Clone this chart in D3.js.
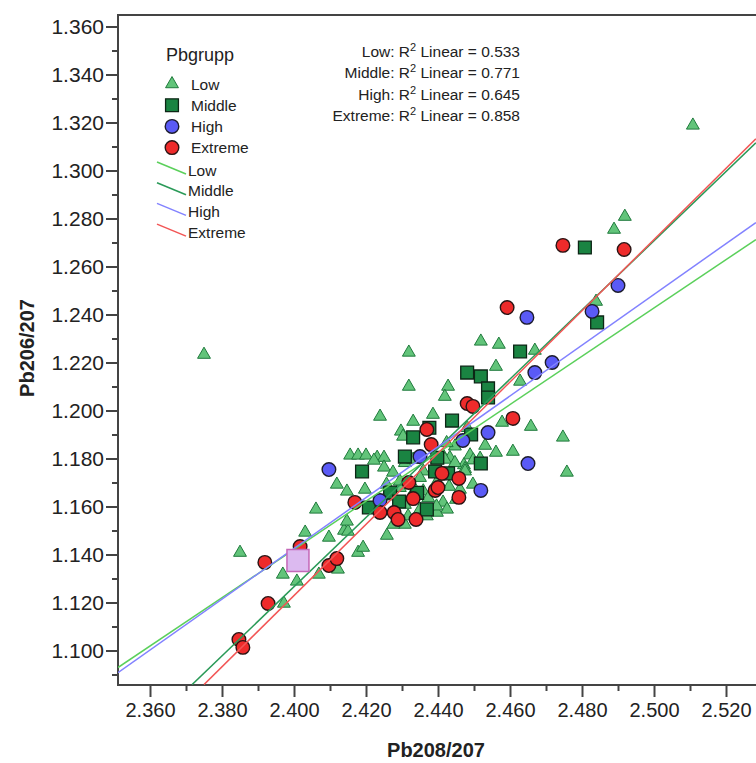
<!DOCTYPE html>
<html>
<head>
<meta charset="utf-8">
<script src="https://cdn.jsdelivr.net/npm/d3@7"></script>
<style>
  body { margin: 0; background: #fff; }
  text { font-family: "Liberation Sans", Arial, sans-serif; fill: #222; }
</style>
</head>
<body>
<svg id="chart" width="756" height="763"></svg>
<script>
// group names and R2 values
var groups = ["Low", "Middle", "High", "Extreme"];
var r2Values = ["0.533", "0.771", "0.645", "0.858"];

// fitted lines, [x0, y0, x1, y1] per group
var fitLow = [2.3511, 1.0929, 2.5283, 1.2712];
var fitMiddle = [2.3717, 1.0858, 2.5283, 1.3115];
var fitHigh = [2.3511, 1.0908, 2.5283, 1.2783];
var fitExtreme = [2.3750, 1.0858, 2.5283, 1.3132];

// Pb208/207, Pb206/207
var low = [
  [2.5108,1.3188],[2.4919,1.2808],[2.4889,1.2754],[2.4839,1.2454],[2.3750,1.2233],
  [2.3850,1.1408],[2.3969,1.1317],[2.4008,1.1288],[2.4069,1.1317],[2.4122,1.1338],
  [2.4031,1.1492],[2.4097,1.1471],[2.4139,1.1500],[2.4150,1.1496],[2.4147,1.1538],
  [2.4178,1.1408],[2.4192,1.1429],[2.4061,1.1588],[2.3972,1.1196],[2.4119,1.1692],
  [2.4147,1.1663],[2.4258,1.1479],[2.4156,1.1813],[2.4178,1.1813],[2.4200,1.1813],
  [2.4231,1.1804],[2.4250,1.1804],[2.4222,1.1792],[2.4250,1.1763],[2.4197,1.1671],
  [2.4275,1.1742],[2.4519,1.2288],[2.4569,1.2275],[2.4669,1.2250],[2.4319,1.2242],
  [2.4561,1.2183],[2.4628,1.2121],[2.4319,1.2100],[2.4428,1.2100],[2.4419,1.2058],
  [2.4239,1.1975],[2.4331,1.1954],[2.4386,1.1983],[2.4578,1.1950],[2.4658,1.1933],
  [2.4608,1.1829],[2.4561,1.1825],[2.4531,1.1854],[2.4297,1.1913],[2.4303,1.1892],
  [2.4497,1.1692],[2.4431,1.1683],[2.4414,1.1617],[2.4425,1.1588],[2.4397,1.1575],
  [2.4308,1.1525],[2.4472,1.1773],[2.4489,1.1814],[2.4498,1.1793],[2.4517,1.1800],
  [2.4447,1.1851],[2.4415,1.1810],[2.4433,1.1803],[2.4475,1.1757],[2.4424,1.1865],
  [2.4481,1.1928],[2.4308,1.1782],[2.4331,1.1796],[2.4359,1.1747],[2.4419,1.1796],
  [2.4447,1.1782],[2.4475,1.1747],[2.4398,1.1705],[2.4350,1.1720],[2.4336,1.1671],
  [2.4359,1.1664],[2.4294,1.1678],[2.4271,1.1643],[2.4373,1.1636],[2.4461,1.1671],
  [2.4396,1.1601],[2.4369,1.1560],[2.4317,1.1560],[2.4350,1.1588],[2.4276,1.1525],
  [2.4294,1.1705],[2.4308,1.1608],[2.4257,1.1692],[2.4450,1.1629],[2.4747,1.1888],
  [2.4758,1.1742]
];
var middle = [
  [2.4808,1.2679],[2.4842,1.2367],[2.4628,1.2246],[2.4481,1.2158],[2.4519,1.2142],
  [2.4539,1.2092],[2.4539,1.2054],[2.4439,1.1958],[2.4331,1.1888],[2.4492,1.1900],
  [2.4308,1.1808],[2.4519,1.1779],[2.4428,1.1738],[2.4392,1.1746],[2.4189,1.1746],
  [2.4267,1.1658],[2.4292,1.1621],[2.4208,1.1596],[2.4369,1.1588],[2.4376,1.1928],
  [2.4398,1.1803],[2.4342,1.1657]
];
var high = [
  [2.4900,1.2521],[2.4828,1.2413],[2.4647,1.2388],[2.4669,1.2158],[2.4717,1.2200],
  [2.4539,1.1908],[2.4469,1.1875],[2.4350,1.1808],[2.4650,1.1779],[2.4519,1.1667],
  [2.4239,1.1625],[2.4097,1.1754]
];
var extreme = [
  [2.4917,1.2671],[2.4747,1.2688],[2.4592,1.2429],[2.4608,1.1967],[2.4481,1.2029],
  [2.4497,1.2017],[2.4369,1.1921],[2.4381,1.1858],[2.4411,1.1738],[2.4458,1.1717],
  [2.4319,1.1700],[2.4392,1.1667],[2.4400,1.1679],[2.4458,1.1638],[2.4331,1.1633],
  [2.4169,1.1617],[2.4239,1.1575],[2.4278,1.1575],[2.4289,1.1546],[2.4339,1.1546],
  [2.4017,1.1433],[2.3919,1.1367],[2.4097,1.1354],[2.4119,1.1383],[2.3928,1.1196],
  [2.3847,1.1046],[2.3858,1.1013]
];
var highlight = [[2.4011, 1.1375]];

var xTicks = [2.36, 2.38, 2.40, 2.42, 2.44, 2.46, 2.48, 2.50, 2.52];
var xMinor = [2.37, 2.39, 2.41, 2.43, 2.45, 2.47, 2.49, 2.51];
var yTicks = [1.10, 1.12, 1.14, 1.16, 1.18, 1.20, 1.22, 1.24, 1.26, 1.28, 1.30, 1.32, 1.34, 1.36];
var yMinor = [1.09, 1.11, 1.13, 1.15, 1.17, 1.19, 1.21, 1.23, 1.25, 1.27, 1.29, 1.31, 1.33, 1.35];

var plotLeft = 118, plotTop = 15, plotRight = 760, plotBottom = 685;

var svg = d3.select("#chart");

var x = d3.scaleLinear().domain([2.36, 2.52]).range([150, 726]);
var y = d3.scaleLinear().domain([1.10, 1.36]).range([650.5, 26.5]);

var style = [
  {shape: d3.symbolTriangle, size: 72, fill: "#62c47a", stroke: "#1f7a3c", sw: 1, line: "#5bd05b", data: low, fit: fitLow},
  {shape: d3.symbolSquare, size: 165, fill: "#1a8442", stroke: "#0d2616", sw: 1.3, line: "#2a9a58", data: middle, fit: fitMiddle},
  {shape: d3.symbolCircle, size: 145, fill: "#5a5af6", stroke: "#1c1c2c", sw: 1.4, line: "#8282ff", data: high, fit: fitHigh},
  {shape: d3.symbolCircle, size: 145, fill: "#ee2b2b", stroke: "#2a1414", sw: 1.4, line: "#f25555", data: extreme, fit: fitExtreme}
];

svg.append("clipPath").attr("id", "plotclip")
  .append("rect").attr("x", plotLeft).attr("y", plotTop)
  .attr("width", plotRight - plotLeft).attr("height", plotBottom - plotTop);

// axes
svg.append("g").attr("class", "yax").attr("transform", "translate(" + plotLeft + ",0)")
  .call(d3.axisLeft(y).tickValues(yTicks).tickFormat(d3.format(".3f"))
    .tickSize(12).tickPadding(2).tickSizeOuter(0));
svg.append("g").attr("transform", "translate(" + plotLeft + ",0)")
  .call(d3.axisLeft(y).tickValues(yMinor).tickFormat("").tickSize(6).tickSizeOuter(0));

svg.append("g").attr("class", "xax").attr("transform", "translate(0," + plotBottom + ")")
  .call(d3.axisBottom(x).tickValues(xTicks).tickFormat(d3.format(".3f"))
    .tickSize(12).tickPadding(6).tickSizeOuter(0));
svg.append("g").attr("transform", "translate(0," + plotBottom + ")")
  .call(d3.axisBottom(x).tickValues(xMinor).tickFormat("").tickSize(6).tickSizeOuter(0));

svg.selectAll(".domain").remove();
svg.selectAll(".tick line").attr("stroke", "#444").attr("stroke-width", 2);
svg.selectAll(".yax .tick text").style("font-size", "21px").attr("fill", "#222");
svg.selectAll(".xax .tick text").style("font-size", "20px").attr("fill", "#222");

// frame
svg.append("path")
  .attr("d", "M" + plotRight + "," + plotTop + "H" + plotLeft + "V" + plotBottom + "H" + plotRight)
  .attr("fill", "none").attr("stroke", "#444").attr("stroke-width", 2);

var plot = svg.append("g").attr("clip-path", "url(#plotclip)");

// points
style.forEach(function(s) {
  plot.append("g").selectAll("path").data(s.data).enter().append("path")
    .attr("d", d3.symbol().type(s.shape).size(s.size))
    .attr("transform", function(d) { return "translate(" + x(d[0]) + "," + y(d[1]) + ")"; })
    .attr("fill", s.fill).attr("stroke", s.stroke).attr("stroke-width", s.sw);
});

// fit lines
style.forEach(function(s) {
  plot.append("line")
    .attr("x1", x(s.fit[0])).attr("y1", y(s.fit[1]))
    .attr("x2", x(s.fit[2])).attr("y2", y(s.fit[3]))
    .attr("stroke", s.line).attr("stroke-width", 1.5);
});

// highlighted sample
plot.selectAll(".hl").data(highlight).enter().append("rect")
  .attr("x", function(d) { return x(d[0]) - 11; })
  .attr("y", function(d) { return y(d[1]) - 11; })
  .attr("width", 22).attr("height", 22)
  .attr("fill", "#dcbaf0").attr("stroke", "#c468b8").attr("stroke-width", 1.5);

// legend
var lg = svg.append("g");
lg.append("text").attr("x", 166).attr("y", 61).style("font-size", "18px").text("Pbgrupp");
style.forEach(function(s, i) {
  var cy = 84 + i * 21.2;
  lg.append("path")
    .attr("d", d3.symbol().type(s.shape).size(s.size))
    .attr("transform", "translate(172," + cy + ")")
    .attr("fill", s.fill).attr("stroke", s.stroke).attr("stroke-width", s.sw);
  lg.append("text").attr("x", 191).attr("y", cy + 5.5).style("font-size", "15.5px").text(groups[i]);
});
style.forEach(function(s, i) {
  var cy = 170 + i * 20.7;
  lg.append("line").attr("x1", 157).attr("y1", cy - 8).attr("x2", 186).attr("y2", cy + 4)
    .attr("stroke", s.line).attr("stroke-width", 1.5);
  lg.append("text").attr("x", 188).attr("y", cy + 5.5).style("font-size", "15.5px").text(groups[i]);
});

// R2 annotations
groups.forEach(function(g, i) {
  var t = svg.append("text").attr("x", 520).attr("y", 56.5 + i * 21.5)
    .attr("text-anchor", "end").style("font-size", "15.5px");
  t.append("tspan").text(g + ": R");
  t.append("tspan").attr("dy", -6).style("font-size", "11px").text("2");
  t.append("tspan").attr("dy", 6).text(" Linear = " + r2Values[i]);
});

// axis titles
svg.append("text").attr("x", 436).attr("y", 757).attr("text-anchor", "middle")
  .style("font-size", "20px").style("font-weight", "bold").text("Pb208/207");
svg.append("text").attr("transform", "translate(34,348) rotate(-90)").attr("text-anchor", "middle")
  .style("font-size", "20px").style("font-weight", "bold").text("Pb206/207");
</script>
</body>
</html>
